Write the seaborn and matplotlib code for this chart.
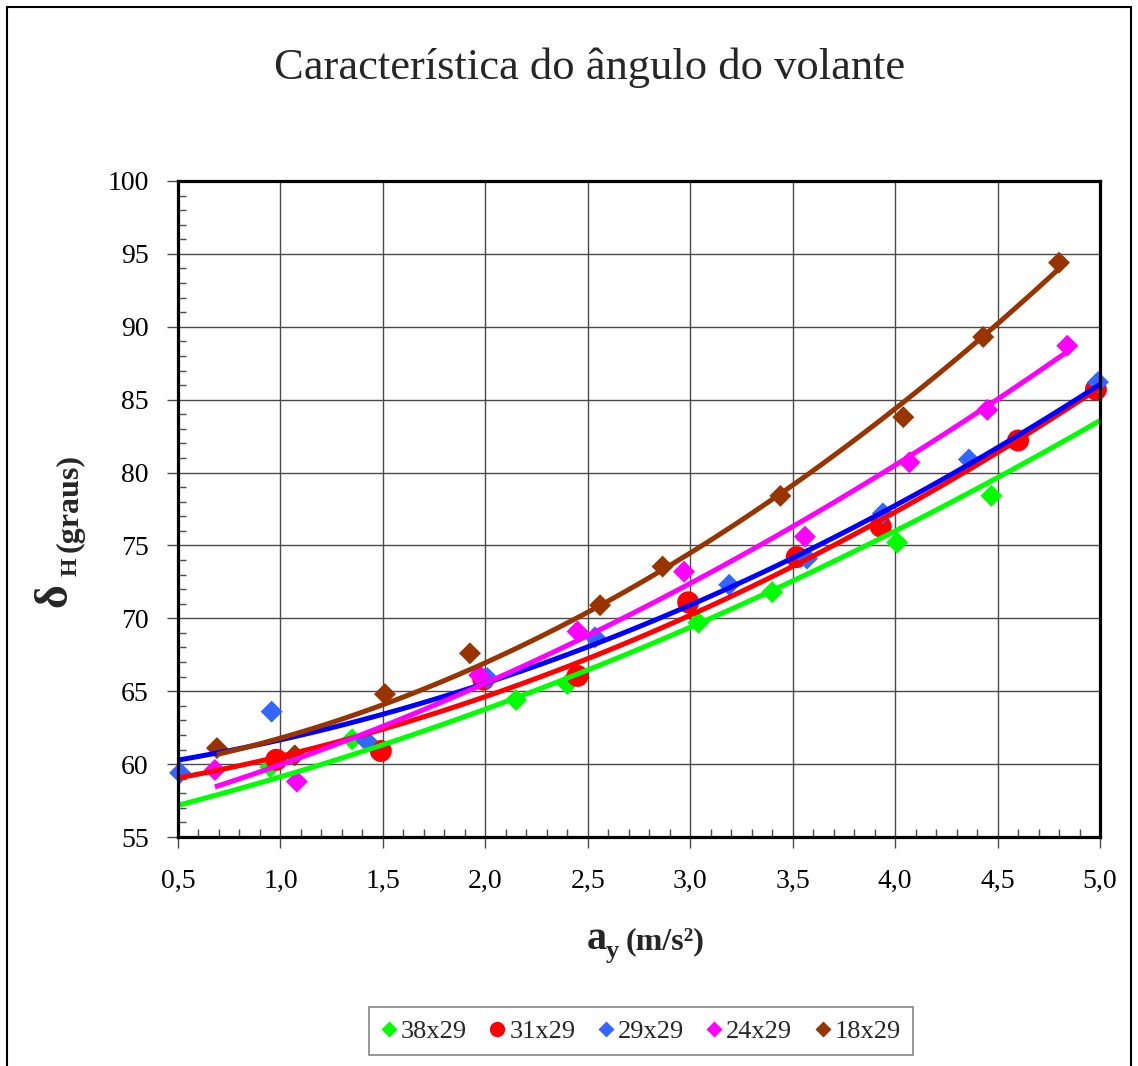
import numpy as np
import pandas as pd
import matplotlib
matplotlib.use("Agg")
import matplotlib.pyplot as plt
import seaborn as sns
from matplotlib.lines import Line2D
from matplotlib.patches import Rectangle
from matplotlib.ticker import FixedLocator, FixedFormatter, MultipleLocator

# ---------------- measured points ----------------
x_38 = [0.95, 1.35, 2.15, 2.40, 3.04, 3.40, 4.01, 4.47]
y_38 = [59.8, 61.7, 64.4, 65.5, 69.7, 71.8, 75.2, 78.4]

x_31 = [0.98, 1.49, 1.99, 2.45, 2.99, 3.52, 3.93, 4.60, 4.98]
y_31 = [60.3, 60.9, 65.8, 66.05, 71.1, 74.2, 76.3, 82.2, 85.7]

x_29 = [0.51, 0.957, 1.42, 2.01, 2.535, 3.19, 3.57, 3.94, 4.36, 4.99]
y_29 = [59.4, 63.6, 61.6, 65.9, 68.7, 72.3, 74.1, 77.2, 80.9, 86.2]

x_24 = [0.68, 1.08, 1.97, 2.45, 2.97, 3.56, 4.07, 4.45, 4.84]
y_24 = [59.6, 58.8, 66.1, 69.1, 73.2, 75.6, 80.7, 84.3, 88.7]

x_18 = [0.69, 1.07, 1.51, 1.925, 2.56, 2.865, 3.44, 4.04, 4.43, 4.80]
y_18 = [61.1, 60.6, 64.8, 67.6, 70.9, 73.55, 78.4, 83.8, 89.3, 94.4]

# ---------------- trendline values ----------------
trend_x_38 = [0.5, 1.0, 1.5, 1.86, 2.755, 2.95, 3.405, 3.49, 3.81, 4.02, 5.0]
trend_y_38 = [57.1, 59.2, 61.4, 63.0, 68.0, 69.1, 71.8, 72.5, 74.7, 76.1, 83.6]

trend_x_31 = [0.5, 1.68, 1.73, 1.78, 2.755, 2.95, 3.49, 4.02, 5.0]
trend_y_31 = [59.03, 63.15, 63.5, 63.6, 68.5, 69.9, 73.55, 77.55, 85.8]

trend_x_29 = [0.5, 1.0, 1.73, 1.78, 2.755, 3.49, 4.02, 5.0]
trend_y_29 = [60.33, 61.55, 64.45, 64.6, 69.3, 74.1, 78.0, 86.0]

trend_x_24 = [0.68, 1.68, 1.73, 1.78, 2.755, 2.85, 3.49, 3.83, 4.02, 4.84]
trend_y_24 = [58.4, 63.7, 63.95, 64.2, 70.5, 71.3, 76.3, 78.9, 80.75, 88.3]

trend_x_18 = [0.69, 1.73, 1.78, 2.755, 3.24, 3.83, 3.95, 4.80]
trend_y_18 = [60.6, 65.4, 65.65, 72.4, 76.75, 82.5, 83.6, 94.1]

series_names = ["38x29", "31x29", "29x29", "24x29", "18x29"]
series_x = [x_38, x_31, x_29, x_24, x_18]
series_y = [y_38, y_31, y_29, y_24, y_18]
trends_x = [trend_x_38, trend_x_31, trend_x_29, trend_x_24, trend_x_18]
trends_y = [trend_y_38, trend_y_31, trend_y_29, trend_y_24, trend_y_18]

xticks = [0.5, 1.0, 1.5, 2.0, 2.5, 3.0, 3.5, 4.0, 4.5, 5.0]
xtick_labels = ["0,5", "1,0", "1,5", "2,0", "2,5", "3,0", "3,5", "4,0", "4,5", "5,0"]
yticks = [55, 60, 65, 70, 75, 80, 85, 90, 95, 100]
ytick_labels = ["55", "60", "65", "70", "75", "80", "85", "90", "95", "100"]

# ---------------- style ----------------
marker_colors = ["#00FF00", "#FF0000", "#3366FF", "#FF00FF", "#993300"]
line_colors = ["#00FF00", "#FF0000", "#0000FF", "#FF00FF", "#993300"]
markers = ["D", "o", "D", "D", "D"]
marker_sizes = [125, 250, 125, 125, 125]
legend_ms = [7.8, 11.0, 7.8, 7.8, 7.8]

sns.set_style("white")
plt.rcParams["font.family"] = ["Liberation Serif", "DejaVu Serif"]

W, H = 1138, 1066
fig = plt.figure(figsize=(W / 100, H / 100), dpi=100)
fig.patch.set_facecolor("white")

left, right, top, bottom = 178, 1100, 181, 837
ax = fig.add_axes([left / W, 1 - bottom / H, (right - left) / W, (bottom - top) / H])
ax.set_xlim(0.5, 5.0)
ax.set_ylim(55, 100)

# markers
for name, xs, ys, c, m, s in zip(series_names, series_x, series_y, marker_colors, markers, marker_sizes):
    df = pd.DataFrame({"x": xs, "y": ys})
    sns.scatterplot(data=df, x="x", y="y", marker=m, s=s, color=c, edgecolor="none",
                    linewidth=0, ax=ax, zorder=3, legend=False, clip_on=False)

# 2nd order polynomial trendlines (smooth curve through the values)
for tx, ty, c in zip(trends_x, trends_y, line_colors):
    sns.regplot(x=np.array(tx), y=np.array(ty), order=2, ci=None, scatter=False,
                truncate=True, color=c, ax=ax,
                line_kws=dict(lw=3.6, zorder=4, solid_capstyle="butt"))

ax.set_xlim(0.5, 5.0)
ax.set_ylim(55, 100)
ax.set_xlabel("")
ax.set_ylabel("")

ax.xaxis.set_major_locator(FixedLocator(xticks))
ax.xaxis.set_major_formatter(FixedFormatter(xtick_labels))
ax.yaxis.set_major_locator(FixedLocator(yticks))
ax.yaxis.set_major_formatter(FixedFormatter(ytick_labels))
ax.xaxis.set_minor_locator(MultipleLocator(0.1))
ax.yaxis.set_minor_locator(MultipleLocator(1))

ax.grid(True, which="major", color="#4a4a4a", lw=1.0)
ax.set_axisbelow(True)
ax.tick_params(which="major", direction="out", length=8, width=1, color="#4a4a4a",
               labelsize=20, labelcolor="black", bottom=True, left=True)
ax.tick_params(axis="y", which="major", pad=13)
ax.tick_params(axis="x", which="major", pad=15)
ax.tick_params(which="minor", direction="in", length=6, width=1, color="#4a4a4a",
               bottom=True, left=True)
for sp in ax.spines.values():
    sp.set_visible(True)
    sp.set_color("black")
    sp.set_linewidth(2.3)
    sp.set_zorder(5)

# title
fig.text(590 / W, 1 - 68 / H, "Característica do ângulo do volante",
         ha="center", va="center", fontsize=32)

# x label: a_y (m/s²)
fig.text(587 / W, 1 - 949 / H, "a", ha="left", va="baseline", fontsize=29, fontweight="bold")
fig.text(606 / W, 1 - 958 / H, "y", ha="left", va="baseline", fontsize=19, fontweight="bold")
fig.text(626 / W, 1 - 949 / H, "(m/s²)", ha="left", va="baseline", fontsize=23, fontweight="bold")

# y label: δ_H (graus)
fig.text(66 / W, 1 - 607 / H, "δ", rotation=90, rotation_mode="anchor",
         ha="left", va="baseline", fontsize=33, fontweight="bold")
fig.text(77 / W, 1 - 576 / H, "H", rotation=90, rotation_mode="anchor",
         ha="left", va="baseline", fontsize=17, fontweight="bold")
fig.text(78 / W, 1 - 552 / H, "(graus)", rotation=90, rotation_mode="anchor",
         ha="left", va="baseline", fontsize=23, fontweight="bold")

# legend
handles = [Line2D([], [], ls="none", marker=m, color=c, markeredgecolor="none", markersize=ms)
           for m, c, ms in zip(markers, marker_colors, legend_ms)]
leg = fig.legend(handles, series_names, loc="center", bbox_to_anchor=(641 / W, 1 - 1031 / H),
                 ncol=5, fontsize=19, frameon=True, fancybox=False, edgecolor="#666666",
                 handlelength=0.6, handletextpad=0.15, columnspacing=0.85, borderpad=0.45,
                 borderaxespad=0)
leg.get_frame().set_linewidth(1.2)

# outer chart border
fig.patches.append(Rectangle((7 / W, -0.01), (1131 - 7) / W, 1 - 7 / H + 0.01,
                             transform=fig.transFigure, fill=False, edgecolor="black", lw=1.5))

fig.savefig("out.png", dpi=100)
